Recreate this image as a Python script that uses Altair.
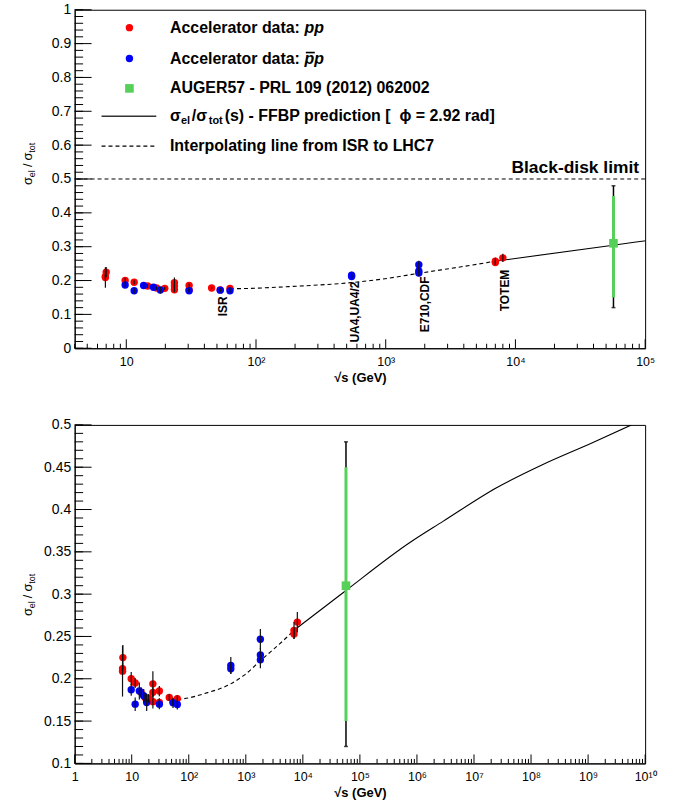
import json
import altair as alt
import pandas as pd

FONT = "Liberation Sans"

# ---------------- data ----------------
# Accelerator data: pp  (sqrt(s) in GeV, sigma_el/sigma_tot, uncertainty)
pp_sqrt_s = [7.0, 6.9, 6.9, 9.8, 11.5, 14.6, 17.1, 19.8, 23.5, 23.5, 23.5,
             30.5, 30.5, 45.5, 53.0, 63.0, 7000, 7000, 8000]
pp_ratio = [0.225, 0.212, 0.209, 0.200, 0.195, 0.184, 0.178, 0.177, 0.194, 0.184, 0.173,
            0.1855, 0.172, 0.178, 0.1726, 0.1765, 0.257, 0.253, 0.267]
pp_err = [0.015, 0.006, 0.030, 0.008, 0.006, 0.006, 0.005, 0.005, 0.015, 0.006, 0.008,
          0.006, 0.005, 0.004, 0.004, 0.004, 0.010, 0.006, 0.012]

# Accelerator data: pbar-p
pbp_sqrt_s = [9.8, 11.5, 13.6, 16.2, 18.3, 30.5, 53.0, 63.0, 546, 546, 1800, 1800, 1800]
pbp_ratio = [0.187, 0.170, 0.1855, 0.180, 0.172, 0.170, 0.1716, 0.1696,
             0.2157, 0.2118, 0.2467, 0.2282, 0.2224]
pbp_err = [0.007, 0.008, 0.010, 0.008, 0.010, 0.006, 0.006, 0.006,
           0.010, 0.006, 0.012, 0.008, 0.010]

# AUGER57 - PRL 109 (2012) 062002
auger_sqrt_s = [57000]
auger_ratio = [0.31]
auger_inner_lo, auger_inner_hi = [0.15], [0.45]
auger_outer_lo, auger_outer_hi = [0.12], [0.48]

# Interpolating line from ISR to LHC7
interp_sqrt_s = [63.1, 83.2, 186, 543, 927, 1811, 6026, 6918]
interp_ratio = [0.1757, 0.1765, 0.1824, 0.194, 0.204, 0.2215, 0.253, 0.257]

# FFBP prediction (phi = 2.92 rad)
ffbp_sqrt_s = [6918, 51300, 751600, 2.86e6, 2.44e7, 1.58e8, 1.19e9, 5.75e9]
ffbp_ratio = [0.257, 0.302, 0.361, 0.386, 0.4255, 0.453, 0.479, 0.500]

black_disk = [0.5]

# experiment annotations (x position, upper end of the rotated label)
exp_labels = ["ISR", "UA4,UA4/2", "E710,CDF", "TOTEM"]
exp_sqrt_s = [55.7, 575, 2018, 8318]
exp_top = [0.153, 0.197, 0.212, 0.232]

# axis tick labels
top_x_labels = ["10", "10²", "10³", "10⁴", "10⁵"]
top_x_values = [10, 100, 1000, 10000, 100000]
bot_x_labels = ["1", "10", "10²", "10³", "10⁴", "10⁵", "10⁶", "10⁷", "10⁸", "10⁹", "10¹⁰"]
bot_x_values = [1, 10, 100, 1e3, 1e4, 1e5, 1e6, 1e7, 1e8, 1e9, 1e10]
top_y_values = [0, 0.1, 0.2, 0.3, 0.4, 0.5, 0.6, 0.7, 0.8, 0.9, 1.0]
bot_y_values = [0.1, 0.15, 0.2, 0.25, 0.3, 0.35, 0.4, 0.45, 0.5]

W, H = 573, 340

pp_df = pd.DataFrame({"s": pp_sqrt_s, "r": pp_ratio, "e": pp_err})
pp_df["lo"], pp_df["hi"] = pp_df.r - pp_df.e, pp_df.r + pp_df.e
pbp_df = pd.DataFrame({"s": pbp_sqrt_s, "r": pbp_ratio, "e": pbp_err})
pbp_df["lo"], pbp_df["hi"] = pbp_df.r - pbp_df.e, pbp_df.r + pbp_df.e
auger_df = pd.DataFrame({"s": auger_sqrt_s, "r": auger_ratio,
                         "ilo": auger_inner_lo, "ihi": auger_inner_hi,
                         "olo": auger_outer_lo, "ohi": auger_outer_hi})
interp_df = pd.DataFrame({"s": interp_sqrt_s, "r": interp_ratio})
ffbp_df = pd.DataFrame({"s": ffbp_sqrt_s, "r": ffbp_ratio})
one = pd.DataFrame({"a": [0]})


def minor_log_ticks(lo, hi):
    out = []
    e = 0
    while 10 ** e <= hi:
        for k in range(2, 10):
            v = k * 10 ** e
            if lo <= v <= hi:
                out.append(v)
        e += 1
    return out


def txt(text, x, y, size=16, weight="bold", style="normal", angle=0,
        align="left", baseline="middle", color="black"):
    kw = dict(text=text, fontSize=size, fontWeight=weight, fontStyle=style,
              align=align, baseline=baseline, color=color, font=FONT)
    if angle:
        kw["angle"] = angle
    return alt.Chart(one).mark_text(**kw).encode(x=alt.value(x), y=alt.value(y))


def y_title(y0):
    # sigma_el / sigma_tot, rotated, built from pieces for the subscripts
    bx = -43
    return [
        txt("σ", bx, y0, 13, "normal", angle=270, baseline="alphabetic"),
        txt("el", bx + 3, y0 - 7.8, 9, "normal", angle=270, baseline="alphabetic"),
        txt("/", bx, y0 - 18, 13, "normal", angle=270, baseline="alphabetic"),
        txt("σ", bx, y0 - 24.6, 13, "normal", angle=270, baseline="alphabetic"),
        txt("tot", bx + 3, y0 - 32.4, 9, "normal", angle=270, baseline="alphabetic"),
    ]


def panel(xdom, ydom, xvals, xlabels, yvals, ymin_step, top):
    xs = alt.Scale(type="log", domain=xdom, nice=False)
    ys = alt.Scale(domain=ydom, nice=False, zero=False)
    exp0 = 0 if xvals[0] == 1 else 1
    lab_expr = f"{json.dumps(xlabels, ensure_ascii=False)}[round(log(datum.value)/LN10) - {exp0}]"
    xaxis = alt.Axis(values=xvals, labelExpr=lab_expr, ticks=False, grid=False,
                     title="√s (GeV)", titleFontWeight="bold", titleFontSize=13,
                     labelFontSize=12.5, labelPadding=7, titlePadding=4,
                     labelFlush=False, labelOverlap=False)
    yaxis = alt.Axis(values=yvals, format="~g", ticks=False, grid=False, title=None,
                     labelFontSize=14, labelPadding=4, labelOverlap=False)

    def X(f):
        return alt.X(f, type="quantitative", scale=xs, axis=xaxis)

    def Y(f):
        return alt.Y(f, type="quantitative", scale=ys, axis=yaxis)

    layers = []

    # inward tick marks
    maj_x = pd.DataFrame({"v": xvals})
    min_x = pd.DataFrame({"v": minor_log_ticks(xdom[0], xdom[1])})
    layers.append(alt.Chart(maj_x).mark_rule(color="black").encode(
        x=X("v"), y=alt.value(H), y2=alt.value(H - 9)))
    layers.append(alt.Chart(min_x).mark_rule(color="black").encode(
        x=X("v"), y=alt.value(H), y2=alt.value(H - 4.5)))
    nmin = int(round((ydom[1] - ydom[0]) / ymin_step))
    min_y = pd.DataFrame({"v": [round(ydom[0] + i * ymin_step, 4) for i in range(nmin + 1)]})
    maj_y = pd.DataFrame({"v": yvals})
    layers.append(alt.Chart(maj_y).mark_rule(color="black").encode(
        y=Y("v"), x=alt.value(0), x2=alt.value(17)))
    layers.append(alt.Chart(min_y).mark_rule(color="black").encode(
        y=Y("v"), x=alt.value(0), x2=alt.value(8.5)))

    # curves
    layers.append(alt.Chart(interp_df).mark_line(
        color="black", strokeWidth=1.1, strokeDash=[4, 3], clip=True, interpolate="monotone"
    ).encode(x=X("s"), y=Y("r")))
    layers.append(alt.Chart(ffbp_df).mark_line(
        color="black", strokeWidth=1.1, clip=True, interpolate="monotone"
    ).encode(x=X("s"), y=Y("r")))

    # accelerator points + error bars
    for df, col in ((pp_df, "#ff0000"), (pbp_df, "#0000ff")):
        layers.append(alt.Chart(df).mark_circle(color=col, size=55, opacity=1).encode(
            x=X("s"), y=Y("r")))
    for df in (pp_df, pbp_df):
        layers.append(alt.Chart(df).mark_rule(color="#111111", strokeWidth=1.2).encode(
            x=X("s"), y=Y("lo"), y2=alt.Y2("hi")))

    # AUGER point
    layers.append(alt.Chart(auger_df).mark_rule(color="black", strokeWidth=1.5).encode(
        x=X("s"), y=Y("olo"), y2=alt.Y2("ohi")))
    for f in ("olo", "ohi"):
        layers.append(alt.Chart(auger_df).mark_tick(
            color="black", orient="horizontal", size=4, thickness=1.5).encode(x=X("s"), y=Y(f)))
    layers.append(alt.Chart(auger_df).mark_rule(color="#57d05a", strokeWidth=3).encode(
        x=X("s"), y=Y("ilo"), y2=alt.Y2("ihi")))
    layers.append(alt.Chart(auger_df).mark_square(color="#57d05a", size=75, opacity=1).encode(
        x=X("s"), y=Y("r")))

    layers += y_title(176 if top else 192)

    if top:
        bd = pd.DataFrame({"y": black_disk})
        layers.append(alt.Chart(bd).mark_rule(color="black", strokeWidth=1, strokeDash=[4, 3]).encode(
            y=Y("y")))
        layers.append(alt.Chart(bd).mark_text(
            text="Black-disk limit", font=FONT, fontSize=17.5, fontWeight="bold",
            align="right", baseline="alphabetic", dy=-6).encode(x=alt.value(567), y=Y("y")))
        ex = pd.DataFrame({"s": exp_sqrt_s, "t": exp_top, "lab": exp_labels})
        layers.append(alt.Chart(ex).mark_text(
            font=FONT, fontSize=12, fontWeight="bold", angle=270,
            align="right", baseline="middle").encode(x=X("s"), y=Y("t"), text="lab:N"))

        # legend
        lx, tx = 55, 95.7
        rows = [18, 49, 79, 107, 137]
        layers.append(alt.Chart(one).mark_circle(color="#ff0000", size=55, opacity=1).encode(
            x=alt.value(lx), y=alt.value(rows[0])))
        layers.append(alt.Chart(one).mark_circle(color="#0000ff", size=55, opacity=1).encode(
            x=alt.value(lx), y=alt.value(rows[1])))
        layers.append(alt.Chart(one).mark_square(color="#57d05a", size=75, opacity=1).encode(
            x=alt.value(lx), y=alt.value(rows[2])))
        layers.append(alt.Chart(one).mark_rule(color="#333333", strokeWidth=1.5).encode(
            x=alt.value(27), x2=alt.value(82), y=alt.value(rows[3])))
        layers.append(alt.Chart(one).mark_rule(color="black", strokeWidth=1.1, strokeDash=[4, 3]).encode(
            x=alt.value(27), x2=alt.value(82), y=alt.value(rows[4])))

        layers.append(txt("Accelerator data: ", tx, rows[0]))
        layers.append(txt("pp", tx + 135.2, rows[0], style="italic"))
        layers.append(txt("Accelerator data: ", tx, rows[1]))
        layers.append(txt("pp", tx + 135.2, rows[1], style="italic"))
        layers.append(alt.Chart(one).mark_rule(color="black", strokeWidth=1.6).encode(
            x=alt.value(tx + 136.5), x2=alt.value(tx + 145.5), y=alt.value(rows[1] - 6)))
        layers.append(txt("AUGER57 - PRL 109 (2012) 062002", tx, rows[2]))
        layers.append(txt("σ", tx, rows[3]))
        layers.append(txt("el", tx + 11, rows[3] + 5, size=11))
        layers.append(txt("/σ", tx + 22, rows[3]))
        layers.append(txt("tot", tx + 39, rows[3] + 5, size=11))
        layers.append(txt("(s) - FFBP prediction [\u00a0\u00a0ϕ = 2.92 rad]", tx + 55, rows[3]))
        layers.append(txt("Interpolating line from ISR to LHC7", tx, rows[4]))

    return alt.layer(*layers).properties(width=W, height=H)


top_panel = panel([4, 1e5], [0, 1], top_x_values, top_x_labels, top_y_values, 0.02, True)
bottom_panel = panel([1, 1e10], [0.1, 0.5], bot_x_values, bot_x_labels, bot_y_values, 0.01, False)

chart = alt.vconcat(top_panel, bottom_panel, spacing=32).properties(
    padding={"left": 21, "top": 0, "right": 20, "bottom": 5},
    background="white",
).configure_view(
    stroke="black", strokeWidth=1
).configure_axis(
    domainColor="black", domainWidth=1, labelColor="black", titleColor="black",
    labelFont=FONT, titleFont=FONT,
)

chart.save("out.html", embed_options={"renderer": "svg", "actions": False})
